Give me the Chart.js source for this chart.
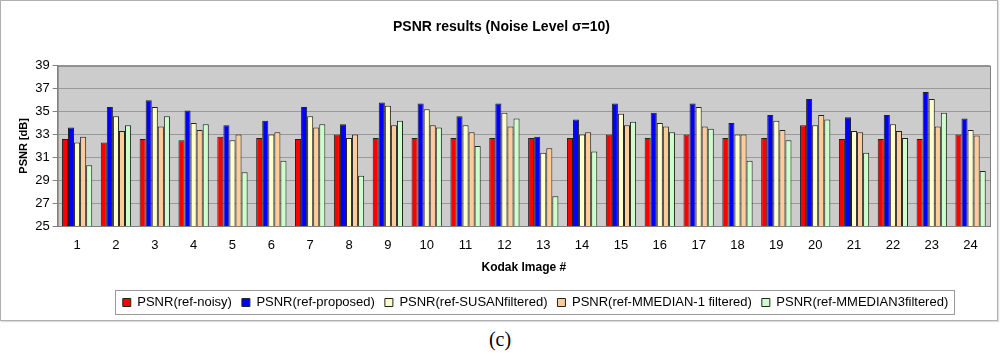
<!DOCTYPE html>
<html>
<head>
<meta charset="utf-8">
<script src="https://cdn.jsdelivr.net/npm/chart.js@4/dist/chart.umd.min.js"></script>
<style>
  body { margin: 0; background: #fff; width: 1000px; height: 361px; overflow: hidden; }
  #frame { position: absolute; left: 0; top: 0; width: 996px; height: 319px; border: 1px solid #b0b0b0; box-shadow: 1px 1px 1px #ddd; }
  #caption { position: absolute; left: 0; top: 328px; width: 1000px; text-align: center; font-family: "Liberation Serif", serif; font-size: 20px; }
</style>
</head>
<body>
<div id="frame"><canvas id="psnrChart" width="996" height="319"></canvas></div>
<div id="caption">(c)</div>
<script>
const images = Array.from({length: 24}, (_, i) => String(i + 1));
const yTicks = [25, 27, 29, 31, 33, 35, 37, 39];

const noisy = [32.6, 32.3, 32.6, 32.5, 32.8, 32.7, 32.6, 33.0, 32.7, 32.7, 32.7, 32.7,
               32.7, 32.7, 33.0, 32.7, 33.0, 32.7, 32.7, 33.8, 32.6, 32.6, 32.6, 33.0];
const proposed = [33.6, 35.4, 36.0, 35.1, 33.8, 34.2, 35.4, 33.9, 35.8, 35.7, 34.6, 35.7,
                  32.8, 34.3, 35.7, 34.9, 35.7, 34.0, 34.7, 36.1, 34.5, 34.7, 36.7, 34.4];
const susan = [32.3, 34.6, 35.4, 34.0, 32.5, 33.0, 34.6, 32.7, 35.5, 35.2, 33.8, 34.9,
               31.4, 33.0, 34.8, 34.0, 35.4, 33.0, 34.2, 33.8, 33.3, 33.9, 36.1, 33.4];
const mmedian1 = [32.8, 33.3, 33.7, 33.4, 33.0, 33.2, 33.6, 33.0, 33.8, 33.8, 33.2, 33.7,
                  31.8, 33.2, 33.8, 33.7, 33.7, 33.0, 33.4, 34.7, 33.2, 33.3, 33.7, 32.9];
const mmedian3 = [30.3, 33.8, 34.6, 33.9, 29.7, 30.7, 33.9, 29.4, 34.2, 33.6, 32.0, 34.4,
                  27.6, 31.5, 34.1, 33.2, 33.5, 30.7, 32.5, 34.3, 31.4, 32.7, 34.9, 29.8];

const seriesNames = ['PSNR(ref-noisy)', 'PSNR(ref-proposed)', 'PSNR(ref-SUSANfiltered)',
                     'PSNR(ref-MMEDIAN-1 filtered)', 'PSNR(ref-MMEDIAN3filtered)'];
const seriesColors = ['#ff0000', '#0000ff', '#ffffcc', '#ffcc99', '#ccffcc'];
const seriesData = [noisy, proposed, susan, mmedian1, mmedian3];

const plotBackground = {
    id: 'plotBackground',
    beforeDraw(chart) {
        const {ctx, chartArea} = chart;
        ctx.save();
        ctx.fillStyle = '#cccccc';
        ctx.fillRect(chartArea.left, chartArea.top, chartArea.right - chartArea.left, chartArea.bottom - chartArea.top);
        ctx.restore();
    },
    beforeDatasetsDraw(chart) {
        const {ctx, chartArea} = chart;
        ctx.save();
        ctx.strokeStyle = '#808080';
        ctx.lineWidth = 1;
        ctx.strokeRect(chartArea.left + 0.5, chartArea.top + 0.5, chartArea.right - chartArea.left, chartArea.bottom - chartArea.top);
        ctx.restore();
    }
};

// legend sits a little right of the canvas centre in the original
const legendShift = {
    id: 'legendShift',
    afterLayout(chart) {
        chart.legend.left += 34;
        chart.legend.right += 34;
    }
};

const legendBorder = {
    id: 'legendBorder',
    afterDraw(chart) {
        const boxes = chart.legend.legendHitBoxes;
        if (!boxes || !boxes.length) return;
        const left = Math.min(...boxes.map(b => b.left)) - 8;
        const right = Math.max(...boxes.map(b => b.left + b.width)) + 6;
        const top = Math.min(...boxes.map(b => b.top)) - 6;
        const bottom = Math.max(...boxes.map(b => b.top + b.height)) + 5;
        const ctx = chart.ctx;
        ctx.save();
        ctx.strokeStyle = '#999999';
        ctx.lineWidth = 1;
        ctx.strokeRect(Math.round(left) + 0.5, Math.round(top) + 0.5, Math.round(right - left), Math.round(bottom - top));
        ctx.restore();
    }
};

Chart.defaults.font.family = 'Arial, "Liberation Sans", sans-serif';
Chart.defaults.color = '#000';

new Chart(document.getElementById('psnrChart').getContext('2d'), {
    type: 'bar',
    data: {
        labels: images,
        datasets: seriesData.map((d, i) => ({
            label: seriesNames[i],
            data: d,
            backgroundColor: seriesColors[i],
            borderColor: '#222222',
            borderWidth: 1,
            borderSkipped: 'bottom',
            categoryPercentage: 0.78,
            barPercentage: 1.0
        }))
    },
    options: {
        responsive: false,
        animation: false,
        layout: { padding: { left: 12, right: 7, top: 4, bottom: 1 } },
        plugins: {
            title: {
                display: true,
                text: 'PSNR results (Noise Level \u03c3=10)',
                font: { size: 14, weight: 'bold' },
                padding: { top: 14, bottom: 30 }
            },
            legend: {
                position: 'bottom',
                labels: {
                    boxWidth: 8,
                    boxHeight: 8,
                    padding: 10,
                    font: { size: 13 },
                    color: '#000',
                    generateLabels(chart) {
                        return chart.data.datasets.map((ds, i) => ({
                            text: ds.label,
                            fillStyle: ds.backgroundColor,
                            strokeStyle: '#222',
                            lineWidth: 1,
                            datasetIndex: i
                        }));
                    }
                }
            },
            tooltip: { enabled: false }
        },
        scales: {
            x: {
                grid: { display: false, drawTicks: true },
                border: { color: '#808080' },
                ticks: { font: { size: 13 }, padding: 4 },
                title: { display: true, text: 'Kodak Image #', font: { size: 12, weight: 'bold' }, padding: { top: 3, bottom: 11 } }
            },
            y: {
                min: 25,
                max: 39,
                afterBuildTicks(axis) { axis.ticks = yTicks.map(v => ({ value: v })); },
                grid: { color: '#999999', tickLength: 5, tickColor: '#808080' },
                border: { color: '#808080' },
                ticks: { font: { size: 13 }, padding: 3 },
                title: { display: true, text: 'PSNR [dB]', font: { size: 11, weight: 'bold' }, padding: { bottom: 2 } }
            }
        }
    },
    plugins: [plotBackground, legendShift, legendBorder]
});
</script>
</body>
</html>
